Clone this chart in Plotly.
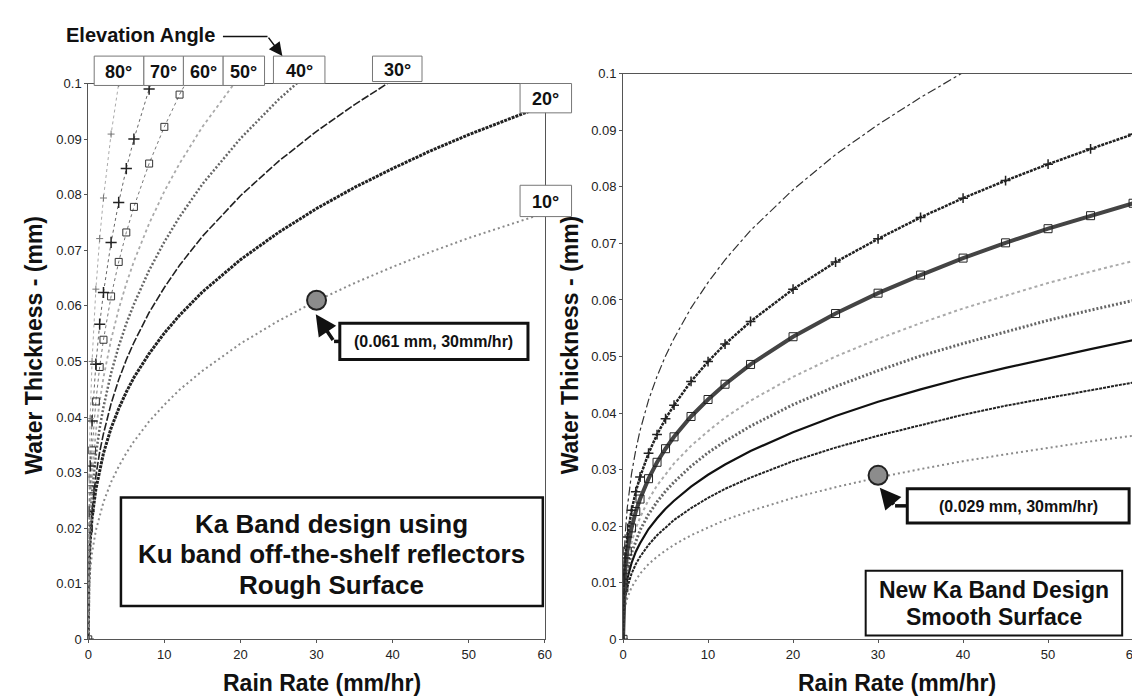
import plotly.graph_objects as go

# ---------------- data ----------------
RAIN_RATE = [0, 0.1, 0.25, 0.5, 1, 1.5, 2, 3, 4, 5, 6, 8, 10, 12, 15, 20,
             25, 30, 35, 40, 45, 50, 55, 60]

ANGLE_LABELS = ["10°", "20°", "30°", "40°", "50°", "60°", "70°", "80°"]

# Left panel: Ka band design with Ku band off-the-shelf reflectors (rough surface)
ROUGH_10 = [0, 0.0091, 0.0123, 0.0156, 0.0196, 0.0224, 0.0247, 0.0283, 0.0311, 0.0335,
            0.0356, 0.0392, 0.0422, 0.0449, 0.0483, 0.0532, 0.0573, 0.0609, 0.0641,
            0.0670, 0.0697, 0.0722, 0.0745, 0.0767]
ROUGH_20 = [0, 0.0132, 0.0176, 0.0218, 0.0270, 0.0306, 0.0335, 0.0380, 0.0415, 0.0445,
            0.0471, 0.0514, 0.0551, 0.0583, 0.0625, 0.0683, 0.0732, 0.0775, 0.0813,
            0.0847, 0.0879, 0.0908, 0.0935, 0.0961]
ROUGH_30 = [0, 0.0137, 0.0185, 0.0233, 0.0294, 0.0337, 0.0370, 0.0424, 0.0467, 0.0503,
            0.0534, 0.0588, 0.0633, 0.0673, 0.0725, 0.0798, 0.0860, 0.0914, 0.0962, 0.1006]
ROUGH_40 = [0, 0.0154, 0.0209, 0.0264, 0.0332, 0.0380, 0.0418, 0.0479, 0.0527, 0.0568,
            0.0603, 0.0664, 0.0715, 0.0760, 0.0819, 0.0901, 0.0971, 0.1032]
ROUGH_50 = [0, 0.0174, 0.0236, 0.0297, 0.0374, 0.0428, 0.0471, 0.0539, 0.0594, 0.0640,
            0.0680, 0.0748, 0.0806, 0.0856, 0.0922, 0.1015]
ROUGH_60 = [0, 0.0199, 0.0270, 0.0340, 0.0428, 0.0490, 0.0539, 0.0617, 0.0679, 0.0732,
            0.0778, 0.0856, 0.0922, 0.0980, 0.1056]
ROUGH_70 = [0, 0.0230, 0.0312, 0.0393, 0.0495, 0.0567, 0.0624, 0.0714, 0.0786, 0.0847,
            0.0900, 0.0990, 0.1066]
ROUGH_80 = [0, 0.0292, 0.0397, 0.0500, 0.0630, 0.0721, 0.0794, 0.0909, 0.1000, 0.1077]

# Right panel: new Ka band design (smooth surface)
SMOOTH_10 = [0, 0.0043, 0.0058, 0.0073, 0.0092, 0.0105, 0.0116, 0.0133, 0.0146, 0.0157,
             0.0167, 0.0184, 0.0198, 0.0211, 0.0227, 0.0250, 0.0269, 0.0286, 0.0301,
             0.0315, 0.0327, 0.0339, 0.0350, 0.0360]
SMOOTH_20 = [0, 0.0054, 0.0073, 0.0092, 0.0116, 0.0133, 0.0146, 0.0167, 0.0184, 0.0198,
             0.0211, 0.0232, 0.0250, 0.0266, 0.0286, 0.0315, 0.0339, 0.0360, 0.0379,
             0.0397, 0.0413, 0.0427, 0.0441, 0.0454]
SMOOTH_30 = [0, 0.0063, 0.0085, 0.0107, 0.0135, 0.0155, 0.0170, 0.0195, 0.0214, 0.0231,
             0.0245, 0.0270, 0.0291, 0.0309, 0.0333, 0.0366, 0.0395, 0.0420, 0.0442,
             0.0462, 0.0480, 0.0497, 0.0513, 0.0529]
SMOOTH_40 = [0, 0.0071, 0.0096, 0.0121, 0.0153, 0.0175, 0.0193, 0.0221, 0.0243, 0.0262,
             0.0278, 0.0306, 0.0330, 0.0350, 0.0377, 0.0415, 0.0447, 0.0475, 0.0501,
             0.0523, 0.0544, 0.0564, 0.0582, 0.0599]
SMOOTH_50 = [0, 0.0079, 0.0108, 0.0136, 0.0171, 0.0196, 0.0215, 0.0247, 0.0272, 0.0292,
             0.0311, 0.0342, 0.0368, 0.0392, 0.0422, 0.0464, 0.0500, 0.0531, 0.0559,
             0.0585, 0.0608, 0.0630, 0.0650, 0.0669]
SMOOTH_60 = [0, 0.0091, 0.0124, 0.0156, 0.0197, 0.0226, 0.0248, 0.0284, 0.0313, 0.0337,
             0.0358, 0.0394, 0.0424, 0.0451, 0.0486, 0.0535, 0.0576, 0.0612, 0.0644,
             0.0674, 0.0701, 0.0726, 0.0749, 0.0771]
SMOOTH_70 = [0, 0.0106, 0.0144, 0.0181, 0.0228, 0.0261, 0.0287, 0.0329, 0.0362, 0.0390,
             0.0414, 0.0456, 0.0491, 0.0522, 0.0562, 0.0619, 0.0667, 0.0708, 0.0746,
             0.0780, 0.0811, 0.0840, 0.0867, 0.0893]
SMOOTH_80 = [0, 0.0136, 0.0185, 0.0233, 0.0293, 0.0335, 0.0369, 0.0423, 0.0465, 0.0501,
             0.0532, 0.0586, 0.0631, 0.0671, 0.0723, 0.0795, 0.0857, 0.0910, 0.0958, 0.1002]

# highlighted design points (rain rate mm/hr, thickness mm)
ROUGH_POINT = [30, 0.061]
SMOOTH_POINT = [30, 0.029]
ROUGH_POINT_TEXT = "(0.061 mm, 30mm/hr)"
SMOOTH_POINT_TEXT = "(0.029 mm, 30mm/hr)"

X_TICKS = [0, 10, 20, 30, 40, 50, 60]
Y_TICKS = [0, 0.01, 0.02, 0.03, 0.04, 0.05, 0.06, 0.07, 0.08, 0.09, 0.1]
Y_TICK_TEXT = ["0", "0.01", "0.02", "0.03", "0.04", "0.05", "0.06", "0.07", "0.08", "0.09", "0.1"]

X_TITLE = "Rain Rate (mm/hr)"
Y_TITLE = "Water Thickness - (mm)"
LEFT_BOX_LINES = ["Ka Band design using", "Ku band off-the-shelf reflectors", "Rough Surface"]
RIGHT_BOX_LINES = ["New Ka Band Design", "Smooth Surface"]
ELEVATION_TITLE = "Elevation Angle"

# ---------------- layout helpers ----------------
W, H = 1140, 700
FONT = "Liberation Sans, Arial, Helvetica, sans-serif"


def px(x):
    return x / W


def py(y):
    return 1 - y / H


L_X = (77, 538)
R_X = (617, 1132)
L_Y = (638, 70)
R_Y = (638, 60)

fig = go.Figure()

left_series = [ROUGH_10, ROUGH_20, ROUGH_30, ROUGH_40, ROUGH_50, ROUGH_60, ROUGH_70, ROUGH_80]
right_series = [SMOOTH_10, SMOOTH_20, SMOOTH_30, SMOOTH_40, SMOOTH_50, SMOOTH_60, SMOOTH_70, SMOOTH_80]

left_styles = [
    dict(mode="lines", line=dict(color="#8a8a8a", width=2, dash="2px,3px")),
    dict(mode="lines", line=dict(color="#222", width=3, dash="3px,1px")),
    dict(mode="lines", line=dict(color="#222", width=1.6, dash="8px,2px")),
    dict(mode="lines", line=dict(color="#666", width=2.5, dash="2px,2px")),
    dict(mode="lines", line=dict(color="#aaa", width=1.8, dash="dot")),
    dict(mode="lines+markers", line=dict(color="#777", width=1, dash="dot"),
         marker=dict(symbol="square-open", size=7, color="#333", line=dict(width=1))),
    dict(mode="lines+markers", line=dict(color="#666", width=1, dash="dot"),
         marker=dict(symbol="cross-thin-open", size=8, color="#222", line=dict(width=1.5, color="#222"))),
    dict(mode="lines+markers", line=dict(color="#aaa", width=1, dash="dot"),
         marker=dict(symbol="cross-thin-open", size=5, color="#777", line=dict(width=1, color="#777"))),
]
right_styles = [
    dict(mode="lines", line=dict(color="#8a8a8a", width=2, dash="2px,3px")),
    dict(mode="lines", line=dict(color="#222", width=2, dash="3px,1px")),
    dict(mode="lines", line=dict(color="#111", width=2.2)),
    dict(mode="lines", line=dict(color="#666", width=3, dash="2px,2px")),
    dict(mode="lines", line=dict(color="#aaa", width=2, dash="dot")),
    dict(mode="lines+markers", line=dict(color="#444", width=4),
         marker=dict(symbol="square-open", size=8, color="#222", line=dict(width=1))),
    dict(mode="lines+markers", line=dict(color="#222", width=2.5, dash="3px,1px"),
         marker=dict(symbol="cross-thin-open", size=7, color="#222", line=dict(width=1.5, color="#222"))),
    dict(mode="lines", line=dict(color="#333", width=1.2, dash="dashdot")),
]

for name, ys, st in zip(ANGLE_LABELS, left_series, left_styles):
    fig.add_trace(go.Scatter(x=RAIN_RATE[:len(ys)], y=ys, name=name, xaxis="x", yaxis="y",
                             showlegend=False, hoverinfo="x+y+name", **st))
for name, ys, st in zip(ANGLE_LABELS, right_series, right_styles):
    fig.add_trace(go.Scatter(x=RAIN_RATE[:len(ys)], y=ys, name=name, xaxis="x2", yaxis="y2",
                             showlegend=False, hoverinfo="x+y+name", **st))

# highlighted points
for pt, xa, ya in [(ROUGH_POINT, "x", "y"), (SMOOTH_POINT, "x2", "y2")]:
    fig.add_trace(go.Scatter(x=[pt[0]], y=[pt[1]], mode="markers", xaxis=xa, yaxis=ya,
                             showlegend=False,
                             marker=dict(size=19, color="#8c8c8c", line=dict(color="#222", width=2))))

axis_common = dict(showgrid=False, zeroline=False, showline=True, linecolor="#555", linewidth=1,
                   mirror=True, ticks="outside", ticklen=3, tickcolor="#555",
                   tickfont=dict(family=FONT, size=13, color="#222"))

fig.update_layout(
    width=W, height=H, autosize=False,
    margin=dict(l=0, r=0, t=0, b=0),
    paper_bgcolor="white", plot_bgcolor="white",
    xaxis=dict(domain=[px(L_X[0]), px(L_X[1])], range=[0, 60], tickvals=X_TICKS, anchor="y", **axis_common),
    yaxis=dict(domain=[py(L_Y[0]), py(L_Y[1])], range=[0, 0.1], tickvals=Y_TICKS, ticktext=Y_TICK_TEXT,
               anchor="x", **axis_common),
    xaxis2=dict(domain=[px(R_X[0]), px(R_X[1])], range=[0, 60], tickvals=X_TICKS, anchor="y2", **axis_common),
    yaxis2=dict(domain=[py(R_Y[0]), py(R_Y[1])], range=[0, 0.1], tickvals=Y_TICKS, ticktext=Y_TICK_TEXT,
                anchor="x2", **axis_common),
)

shapes = []
annotations = []


def text_at(x, y, text, size, bold=True, angle=0):
    annotations.append(dict(x=px(x), y=py(y), xref="paper", yref="paper", text=text, showarrow=False,
                            xanchor="center", yanchor="middle", textangle=angle,
                            font=dict(family=FONT, size=size, color="#111")))
    if bold:
        annotations[-1]["text"] = "<b>" + text + "</b>"


def box(x0, y0, x1, y1, width=1, color="#111"):
    shapes.append(dict(type="rect", xref="paper", yref="paper", x0=px(x0), x1=px(x1), y0=py(y1), y1=py(y0),
                       line=dict(color=color, width=width), fillcolor="white", layer="above"))


# axis titles
text_at(22, 337, Y_TITLE, 23, angle=-90)
text_at(563, 337, Y_TITLE, 23, angle=-90)
text_at(313, 683, X_TITLE, 23)
text_at(894, 683, X_TITLE, 23)

# big description boxes
box(110, 493, 536, 604, width=2.5)
for line, yy in zip(LEFT_BOX_LINES, [520, 551, 582]):
    text_at(323, yy, line, 26)
box(862, 568, 1121, 634, width=2)
for line, yy in zip(RIGHT_BOX_LINES, [588, 615]):
    text_at(992, yy, line, 23)

# point annotation boxes
box(331, 315, 521, 352, width=3)
text_at(426, 334, ROUGH_POINT_TEXT, 16)
box(904, 484, 1128, 519, width=3)
text_at(1016, 502, SMOOTH_POINT_TEXT, 16)

# arrows to the highlighted points
shapes.append(dict(type="line", xref="x", yref="y", x0=32.3, y0=0.0536, x1=33.1, y1=0.0536,
                   line=dict(color="#111", width=3.5)))
annotations.append(dict(xref="x", yref="y", axref="x", ayref="y", x=29.9, y=0.0585, ax=32.3, ay=0.0536,
                        text="", showarrow=True, arrowhead=2, arrowsize=1.2, arrowwidth=3.5, arrowcolor="#111"))
shapes.append(dict(type="line", xref="x2", yref="y2", x0=32.0, y0=0.0236, x1=33.5, y1=0.0236,
                   line=dict(color="#111", width=3.5)))
annotations.append(dict(xref="x2", yref="y2", axref="x2", ayref="y2", x=30.2, y=0.0268, ax=32.0, ay=0.0236,
                        text="", showarrow=True, arrowhead=2, arrowsize=1.2, arrowwidth=3.5, arrowcolor="#111"))

# elevation angle label boxes
elev_boxes = {
    "80°": (83, 42, 133, 72), "70°": (133, 42, 173, 72), "60°": (173, 42, 213, 72),
    "50°": (213, 42, 255, 72), "40°": (264, 42, 316, 70), "30°": (364, 42, 414, 68),
    "20°": (513, 70, 565, 100), "10°": (513, 174, 565, 206),
}
for lab in ANGLE_LABELS:
    x0, y0, x1, y1 = elev_boxes[lab]
    box(x0, y0, x1, y1, width=1, color="#777")
    text_at((x0 + x1) / 2, (y0 + y1) / 2 + 1, lab, 18)

# "Elevation Angle" caption with arrow
text_at(130, 20, ELEVATION_TITLE, 20)
shapes.append(dict(type="line", xref="paper", yref="paper", x0=px(213), y0=py(22), x1=px(258), y1=py(22),
                   line=dict(color="#111", width=1.5)))
annotations.append(dict(xref="paper", yref="paper", x=px(273), y=py(42), ax=-15, ay=-20, text="",
                        showarrow=True, arrowhead=2, arrowsize=1.8, arrowwidth=1.5, arrowcolor="#111"))

fig.update_layout(shapes=shapes, annotations=annotations)
fig.write_html("out.html")
